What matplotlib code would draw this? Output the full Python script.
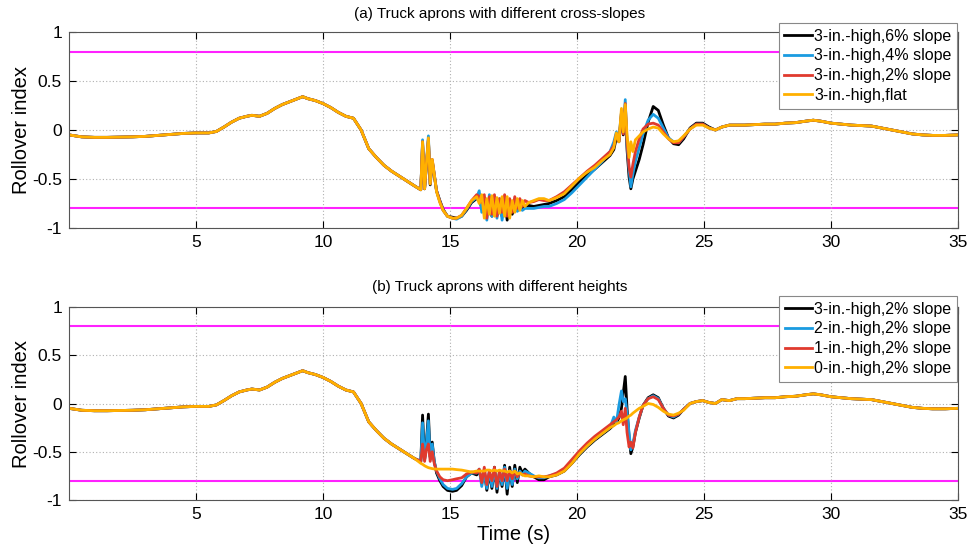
import matplotlib
matplotlib.use("Agg")
import matplotlib.pyplot as plt
import numpy as np

plt.rcParams['font.family'] = ['Liberation Sans', 'DejaVu Sans']

# ---- shared portion of every run (before the apron and after recovery) ----
head_t = [0.0, 0.5, 1.0, 1.5, 2.0, 2.5, 3.0, 3.5, 4.0, 4.5, 5.0, 5.5, 5.8, 6.1,
          6.4, 6.7, 7.0, 7.2, 7.5, 7.8, 8.1, 8.4, 8.7, 9.0, 9.2, 9.4, 9.7, 10.0,
          10.3, 10.6, 10.9, 11.2, 11.5, 11.8, 12.1, 12.4, 12.7, 13.0, 13.3, 13.6]
head_ri = [-0.05, -0.07, -0.075, -0.075, -0.073, -0.07, -0.065, -0.055, -0.045,
           -0.035, -0.03, -0.03, -0.015, 0.03, 0.08, 0.12, 0.14, 0.15, 0.14, 0.17,
           0.22, 0.26, 0.29, 0.32, 0.34, 0.32, 0.30, 0.27, 0.23, 0.18, 0.14, 0.12,
           0.0, -0.19, -0.28, -0.36, -0.42, -0.47, -0.52, -0.57]

end_t = [26.3, 26.6, 27.0, 27.4, 27.8, 28.2, 28.6, 29.0, 29.3, 29.6, 30.0, 30.4,
         30.8, 31.2, 31.6, 32.0, 32.4, 32.8, 33.2, 33.6, 34.0, 34.5, 35.0]
end_ri = [0.05, 0.05, 0.055, 0.06, 0.06, 0.07, 0.075, 0.09, 0.10, 0.09, 0.07, 0.06,
          0.05, 0.045, 0.04, 0.02, 0.0, -0.02, -0.04, -0.05, -0.055, -0.055, -0.05]

# ---- time samples across the apron crossing ----
mid_t = [13.85, 13.92, 14.0, 14.07, 14.15, 14.22, 14.3, 14.38, 14.47, 14.6,
         14.73, 14.9, 15.1, 15.26, 15.46, 15.65, 15.85, 16.05, 16.15, 16.25,
         16.35, 16.45, 16.55, 16.65, 16.75, 16.85, 16.95, 17.05, 17.15, 17.25,
         17.35, 17.45, 17.55, 17.65, 17.75, 17.85, 17.95, 18.1, 18.3, 18.5,
         18.7, 18.9, 19.2, 19.5, 19.8, 20.1, 20.4, 20.7, 21.0, 21.3,
         21.45, 21.55, 21.65, 21.75, 21.82, 21.9, 21.97, 22.05, 22.12, 22.2,
         22.3, 22.45, 22.6, 22.8, 23.0, 23.2, 23.4, 23.6, 23.8, 24.0,
         24.2, 24.45, 24.7, 24.95, 25.2, 25.45, 25.7, 26.0]

# (a) 3-in.-high aprons, different cross-slopes
a_slope6 = [-0.61, -0.14, -0.60, -0.36, -0.10, -0.56, -0.32, -0.46, -0.62, -0.72,
            -0.81, -0.88, -0.89, -0.90, -0.88, -0.82, -0.74, -0.70, -0.70, -0.80,
            -0.74, -0.86, -0.70, -0.88, -0.70, -0.87, -0.72, -0.88, -0.70, -0.92,
            -0.74, -0.86, -0.75, -0.80, -0.76, -0.80, -0.78, -0.77, -0.78, -0.77,
            -0.76, -0.75, -0.72, -0.68, -0.61, -0.53, -0.46, -0.40, -0.33, -0.26,
            -0.20, -0.08, -0.12, 0.15, -0.05, 0.22, -0.20, -0.48, -0.60, -0.50,
            -0.42, -0.30, -0.15, 0.08, 0.24, 0.20, 0.05, -0.08, -0.14, -0.15,
            -0.09, 0.02, 0.07, 0.07, 0.03, 0.00, 0.03, 0.05]
a_slope4 = [-0.61, -0.10, -0.60, -0.34, -0.06, -0.55, -0.31, -0.45, -0.62, -0.73,
            -0.82, -0.88, -0.90, -0.91, -0.88, -0.81, -0.73, -0.69, -0.62, -0.84,
            -0.70, -0.92, -0.66, -0.88, -0.72, -0.90, -0.70, -0.92, -0.74, -0.86,
            -0.78, -0.82, -0.80, -0.83, -0.80, -0.82, -0.80, -0.80, -0.80, -0.79,
            -0.78, -0.78, -0.75, -0.71, -0.64, -0.56, -0.48, -0.40, -0.32, -0.22,
            -0.12, -0.02, -0.08, 0.18, -0.03, 0.31, -0.15, -0.40, -0.58, -0.45,
            -0.32, -0.18, -0.04, 0.10, 0.16, 0.12, 0.02, -0.08, -0.12, -0.13,
            -0.07, 0.01, 0.06, 0.06, 0.02, 0.00, 0.03, 0.05]
a_slope2 = [-0.61, -0.12, -0.60, -0.35, -0.09, -0.55, -0.30, -0.45, -0.62, -0.73,
            -0.82, -0.88, -0.90, -0.90, -0.87, -0.80, -0.72, -0.66, -0.68, -0.74,
            -0.66, -0.90, -0.68, -0.86, -0.66, -0.88, -0.70, -0.84, -0.66, -0.88,
            -0.70, -0.84, -0.68, -0.80, -0.70, -0.78, -0.72, -0.74, -0.73, -0.71,
            -0.72, -0.72, -0.68, -0.63, -0.56, -0.49, -0.42, -0.36, -0.29, -0.22,
            -0.16, -0.04, -0.12, 0.18, -0.04, 0.27, -0.12, -0.38, -0.48, -0.35,
            -0.22, -0.09, 0.01, 0.06, 0.07, 0.05, -0.02, -0.09, -0.13, -0.13,
            -0.07, 0.01, 0.06, 0.06, 0.02, 0.00, 0.03, 0.05]
a_flat = [-0.61, -0.12, -0.60, -0.35, -0.08, -0.55, -0.30, -0.45, -0.63, -0.74,
          -0.82, -0.88, -0.90, -0.90, -0.87, -0.80, -0.72, -0.68, -0.75, -0.66,
          -0.90, -0.70, -0.86, -0.67, -0.88, -0.69, -0.85, -0.68, -0.88, -0.68,
          -0.90, -0.72, -0.84, -0.70, -0.82, -0.72, -0.78, -0.74, -0.72, -0.70,
          -0.70, -0.72, -0.69, -0.65, -0.57, -0.49, -0.43, -0.38, -0.31, -0.25,
          -0.18, -0.03, -0.12, 0.22, -0.02, 0.26, -0.05, -0.28, -0.12, -0.22,
          -0.10, -0.06, -0.02, 0.01, 0.03, 0.02, -0.04, -0.09, -0.12, -0.11,
          -0.06, 0.01, 0.05, 0.05, 0.02, 0.00, 0.03, 0.05]

# (b) 2% cross-slope aprons, different heights
b_h3 = [-0.60, -0.12, -0.58, -0.40, -0.11, -0.55, -0.40, -0.60, -0.72, -0.80,
        -0.86, -0.90, -0.91, -0.90, -0.85, -0.76, -0.72, -0.74, -0.70, -0.80,
        -0.70, -0.90, -0.72, -0.88, -0.66, -0.92, -0.70, -0.86, -0.64, -0.94,
        -0.66, -0.86, -0.64, -0.82, -0.66, -0.72, -0.68, -0.72, -0.76, -0.79,
        -0.79, -0.76, -0.74, -0.70, -0.62, -0.53, -0.45, -0.38, -0.32, -0.26,
        -0.22, -0.20, -0.15, -0.05, 0.10, 0.28, -0.05, -0.35, -0.52, -0.45,
        -0.30, -0.15, -0.02, 0.06, 0.09, 0.06, -0.05, -0.13, -0.15, -0.12,
        -0.06, 0.00, 0.02, 0.03, 0.01, 0.00, 0.04, 0.03]
b_h2 = [-0.60, -0.20, -0.58, -0.42, -0.18, -0.56, -0.42, -0.60, -0.70, -0.78,
        -0.84, -0.88, -0.89, -0.88, -0.83, -0.76, -0.72, -0.72, -0.68, -0.86,
        -0.72, -0.88, -0.70, -0.86, -0.68, -0.88, -0.72, -0.84, -0.66, -0.88,
        -0.70, -0.84, -0.68, -0.78, -0.70, -0.74, -0.70, -0.72, -0.75, -0.77,
        -0.77, -0.75, -0.73, -0.69, -0.61, -0.52, -0.44, -0.37, -0.31, -0.25,
        -0.14, -0.20, -0.02, 0.13, 0.02, 0.05, -0.10, -0.30, -0.48, -0.42,
        -0.28, -0.14, -0.02, 0.05, 0.08, 0.05, -0.05, -0.12, -0.14, -0.11,
        -0.06, 0.00, 0.02, 0.03, 0.01, 0.00, 0.04, 0.03]
b_h1 = [-0.60, -0.42, -0.60, -0.48, -0.42, -0.60, -0.50, -0.62, -0.70, -0.76,
        -0.79, -0.80, -0.79, -0.78, -0.77, -0.73, -0.71, -0.72, -0.68, -0.82,
        -0.66, -0.84, -0.70, -0.80, -0.66, -0.86, -0.70, -0.80, -0.68, -0.80,
        -0.70, -0.78, -0.70, -0.76, -0.72, -0.74, -0.73, -0.75, -0.76, -0.76,
        -0.76, -0.75, -0.72, -0.67, -0.58, -0.49, -0.41, -0.34, -0.28, -0.22,
        -0.19, -0.17, -0.14, -0.08, -0.22, -0.05, -0.30, -0.45, -0.40, -0.46,
        -0.30, -0.14, -0.02, 0.05, 0.07, 0.04, -0.05, -0.12, -0.13, -0.11,
        -0.06, 0.00, 0.02, 0.03, 0.01, 0.00, 0.04, 0.03]
b_h0 = [-0.62, -0.63, -0.645, -0.655, -0.665, -0.67, -0.675, -0.678, -0.68, -0.68,
        -0.68, -0.68, -0.68, -0.685, -0.69, -0.70, -0.71, -0.70, -0.70, -0.70,
        -0.70, -0.69, -0.69, -0.70, -0.69, -0.70, -0.69, -0.70, -0.70, -0.71,
        -0.70, -0.72, -0.70, -0.73, -0.72, -0.74, -0.75, -0.75, -0.76, -0.75,
        -0.76, -0.76, -0.74, -0.70, -0.62, -0.52, -0.44, -0.37, -0.31, -0.25,
        -0.23, -0.21, -0.20, -0.18, -0.17, -0.16, -0.15, -0.13, -0.12, -0.10,
        -0.08, -0.05, -0.03, 0.00, -0.01, -0.04, -0.08, -0.11, -0.12, -0.10,
        -0.07, 0.00, 0.02, 0.03, 0.01, 0.00, 0.04, 0.03]

labels_a = ['3-in.-high,6% slope', '3-in.-high,4% slope',
            '3-in.-high,2% slope', '3-in.-high,flat']
labels_b = ['3-in.-high,2% slope', '2-in.-high,2% slope',
            '1-in.-high,2% slope', '0-in.-high,2% slope']
titles = ['(a) Truck aprons with different cross-slopes',
          '(b) Truck aprons with different heights']
threshold = 0.8
colors = ['#000000', '#1a9be0', '#e03a2e', '#ffb000']

fig = plt.figure(figsize=(9.72, 5.48), dpi=100)
W, H = 972.0, 548.0
ax_a = fig.add_axes([69 / W, 1 - 228 / H, (958 - 69) / W, (228 - 32) / H])
ax_b = fig.add_axes([69 / W, 1 - 500 / H, (958 - 69) / W, (500 - 307) / H])

full_t = head_t + mid_t + end_t

panels = [
    (ax_a, [a_slope6, a_slope4, a_slope2, a_flat], labels_a, titles[0], 23, 14),
    (ax_b, [b_h3, b_h2, b_h1, b_h0], labels_b, titles[1], 296, 287),
]

for ax, series, labels, title, leg_top, title_y in panels:
    ax.axhline(threshold, color='#ff22ff', lw=1.5, zorder=1)
    ax.axhline(-threshold, color='#ff22ff', lw=1.5, zorder=1)
    for vals, col, lab in zip(series, colors, labels):
        ax.plot(full_t, head_ri + vals + end_ri, color=col, lw=2.0,
                label=lab, zorder=2, solid_joinstyle='round')
    ax.set_xlim(0, 35)
    ax.set_ylim(-1, 1)
    ax.set_xticks([5, 10, 15, 20, 25, 30, 35])
    ax.set_yticks([-1, -0.5, 0, 0.5, 1])
    ax.set_yticklabels(['-1', '-0.5', '0', '0.5', '1'])
    ax.grid(True, color='#b0b0b0', linestyle=(0, (1, 2)), lw=0.8)
    ax.tick_params(direction='in', labelsize=12.5, length=5, top=True,
                   right=True, pad=5)
    for s in ax.spines.values():
        s.set_color('#555555')
        s.set_linewidth(0.8)
    ax.set_ylabel('Rollover index', fontsize=14.5, labelpad=1)
    fig.text(500 / W, 1 - title_y / H, title, ha='center', va='center',
             fontsize=11)
    leg = ax.legend(loc='upper right',
                    bbox_to_anchor=(957 / W, 1 - leg_top / H),
                    bbox_transform=fig.transFigure, fontsize=11.5,
                    frameon=True, fancybox=False, framealpha=1.0,
                    handlelength=1.7, handletextpad=0.15, borderpad=0.35,
                    labelspacing=0.3, borderaxespad=0)
    leg.get_frame().set_edgecolor('#888888')
    leg.get_frame().set_linewidth(0.8)
    leg.set_zorder(5)

ax_b.set_xlabel('Time (s)', fontsize=14.5, labelpad=2)

fig.savefig('out.png', dpi=100)
